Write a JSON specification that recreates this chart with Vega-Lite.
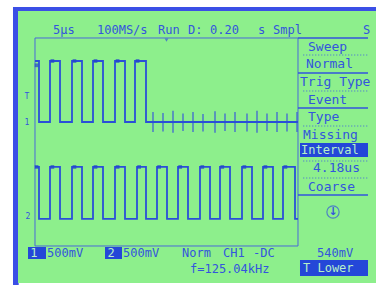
{
  "$schema": "https://vega.github.io/schema/vega-lite/v6.json",
  "width": 376,
  "height": 285,
  "autosize": {"type": "fit", "contains": "padding"},
  "padding": 0,
  "background": "white",
  "config": {"view": {"stroke": null}},
  "datasets": {
    "border": [
      {"t": -4.183, "t2": -3.1, "v": 5.192, "v2": -5.5},
      {"t": -4.183, "t2": 64.829, "v": 5.192, "v2": 4.95}
    ],
    "screen": [{"t": -3.232, "t2": 64.829, "v": 5.038, "v2": -5.423}],
    "grat": [{"t": 0, "t2": 50, "v": 4, "v2": -4}],
    "menuSolid": [
      {"t": 50, "t2": 63.308, "v": 4.0},
      {"t": 50, "t2": 63.308, "v": 2.654},
      {"t": 50, "t2": 63.308, "v": 1.308},
      {"t": 50, "t2": 63.308, "v": -2.038}
    ],
    "menuDotted": [
      {"t": 51.0, "t2": 63.308, "v": 3.346},
      {"t": 51.0, "t2": 63.308, "v": 1.962},
      {"t": 51.0, "t2": 63.308, "v": 0.615},
      {"t": 51.0, "t2": 63.308, "v": -0.731},
      {"t": 51.0, "t2": 63.308, "v": -1.385}
    ],
    "divs": [
      {"t": 5}, {"t": 10}, {"t": 15}, {"t": 20}, {"t": 25},
      {"t": 30}, {"t": 35}, {"t": 40}, {"t": 45}
    ],
    "vdivs": [
      {"v": 3}, {"v": 2}, {"v": 1}, {"v": -1}, {"v": -2}, {"v": -3}
    ],
    "spikes": [
      {"t": 22.433, "v": 1.15, "v2": 0.38},
      {"t": 24.334, "v": 1.12, "v2": 0.4},
      {"t": 26.236, "v": 1.2, "v2": 0.36},
      {"t": 28.137, "v": 1.1, "v2": 0.42},
      {"t": 30.038, "v": 1.15, "v2": 0.38},
      {"t": 31.939, "v": 1.08, "v2": 0.4},
      {"t": 34.221, "v": 1.18, "v2": 0.36},
      {"t": 36.122, "v": 1.1, "v2": 0.42},
      {"t": 38.023, "v": 1.15, "v2": 0.38},
      {"t": 40.304, "v": 1.1, "v2": 0.4},
      {"t": 42.205, "v": 1.2, "v2": 0.36},
      {"t": 44.106, "v": 1.1, "v2": 0.42},
      {"t": 46.008, "v": 1.15, "v2": 0.38},
      {"t": 47.909, "v": 1.1, "v2": 0.4},
      {"t": 49.81, "v": 1.15, "v2": 0.38}
    ],
    "ch1": [
      {"t": 0, "v": 3.115},
      {"t": 0.76, "v": 0.77},
      {"t": 2.852, "v": 3.115},
      {"t": 4.753, "v": 0.77},
      {"t": 7.034, "v": 3.115},
      {"t": 8.935, "v": 0.77},
      {"t": 11.027, "v": 3.115},
      {"t": 12.928, "v": 0.77},
      {"t": 15.209, "v": 3.115},
      {"t": 17.11, "v": 0.77},
      {"t": 19.011, "v": 3.115},
      {"t": 21.103, "v": 0.77},
      {"t": 50, "v": 0.77}
    ],
    "ch2": [
      {"t": 0, "v": -0.96},
      {"t": 0.76, "v": -2.96},
      {"t": 2.852, "v": -0.96},
      {"t": 4.753, "v": -2.96},
      {"t": 7.034, "v": -0.96},
      {"t": 8.935, "v": -2.96},
      {"t": 11.027, "v": -0.96},
      {"t": 12.928, "v": -2.96},
      {"t": 15.209, "v": -0.96},
      {"t": 17.11, "v": -2.96},
      {"t": 19.392, "v": -0.96},
      {"t": 21.103, "v": -2.96},
      {"t": 23.194, "v": -0.96},
      {"t": 25.095, "v": -2.96},
      {"t": 27.186, "v": -0.96},
      {"t": 29.087, "v": -2.96},
      {"t": 31.369, "v": -0.96},
      {"t": 33.27, "v": -2.96},
      {"t": 35.171, "v": -0.96},
      {"t": 37.072, "v": -2.96},
      {"t": 39.354, "v": -0.96},
      {"t": 41.255, "v": -2.96},
      {"t": 43.346, "v": -0.96},
      {"t": 45.247, "v": -2.96},
      {"t": 47.148, "v": -0.96},
      {"t": 49.43, "v": -2.96},
      {"t": 50, "v": -2.96}
    ],
    "blobs": [
      {"t": 0.3, "v": 2.95}, {"t": 3.3, "v": 3.115}, {"t": 7.5, "v": 3.115}, {"t": 11.5, "v": 3.115}, {"t": 15.7, "v": 3.115}, {"t": 19.5, "v": 3.115},
      {"t": 0.3, "v": -0.96}, {"t": 3.3, "v": -0.96}, {"t": 7.5, "v": -0.96}, {"t": 11.5, "v": -0.96}, {"t": 15.7, "v": -0.96}, {"t": 19.8, "v": -0.96},
      {"t": 23.6, "v": -0.96}, {"t": 27.6, "v": -0.96}, {"t": 31.8, "v": -0.96}, {"t": 35.6, "v": -0.96}, {"t": 39.8, "v": -0.96}, {"t": 43.8, "v": -0.96}, {"t": 47.6, "v": -0.96}
    ],
    "invRects": [
      {"t": 50.38, "t2": 63.308, "v": -0.038, "v2": -0.577},
      {"t": 50.38, "t2": 63.308, "v": -4.538, "v2": -5.154},
      {"t": -1.331, "t2": 2.091, "v": -4.038, "v2": -4.5},
      {"t": 13.308, "t2": 16.54, "v": -4.038, "v2": -4.5}
    ],
    "textTop": [
      {"t": 3.422, "v": 4.308, "label": "5\u03bcs"},
      {"t": 11.787, "v": 4.308, "label": "100MS/s"},
      {"t": 23.384, "v": 4.308, "label": "Run"},
      {"t": 29.087, "v": 4.308, "label": "D:"},
      {"t": 33.27, "v": 4.308, "label": "0.20"},
      {"t": 42.395, "v": 4.308, "label": "s"},
      {"t": 45.247, "v": 4.308, "label": "Smpl"},
      {"t": 62.357, "v": 4.308, "label": "S"}
    ],
    "textMenu": [
      {"t": 51.901, "v": 3.654, "label": "Sweep"},
      {"t": 51.521, "v": 3.0, "label": "Normal"},
      {"t": 50.38, "v": 2.308, "label": "Trig Type"},
      {"t": 51.901, "v": 1.615, "label": "Event"},
      {"t": 51.901, "v": 0.962, "label": "Type"},
      {"t": 50.951, "v": 0.269, "label": "Missing"},
      {"t": 52.852, "v": -1.0, "label": "4.18us"},
      {"t": 51.901, "v": -1.731, "label": "Coarse"}
    ],
    "textBottom": [
      {"t": 2.281, "v": -4.269, "label": "500mV"},
      {"t": 16.73, "v": -4.269, "label": "500mV"},
      {"t": 27.947, "v": -4.269, "label": "Norm"},
      {"t": 35.741, "v": -4.269, "label": "CH1"},
      {"t": 41.445, "v": -4.269, "label": "-DC"},
      {"t": 29.468, "v": -4.885, "label": "f=125.04kHz"},
      {"t": 53.612, "v": -4.269, "label": "540mV"}
    ],
    "textInv": [
      {"t": 50.57, "v": -0.308, "label": "Interval"},
      {"t": 50.951, "v": -4.846, "label": "T Lower"},
      {"t": -0.9, "v": -4.269, "label": "1"},
      {"t": 13.8, "v": -4.269, "label": "2"}
    ],
    "markers": [
      {"t": -1.521, "v": 1.731, "label": "T"},
      {"t": -1.521, "v": 0.731, "label": "1"},
      {"t": -1.331, "v": -2.885, "label": "2"}
    ],
    "icon": [{"t": 56.654, "v": -2.692}]
  },
  "encoding": {
    "x": {"field": "t", "type": "quantitative", "scale": {"domain": [-6.654, 64.829], "nice": false, "zero": false}, "axis": null},
    "y": {"field": "v", "type": "quantitative", "scale": {"domain": [-5.5, 5.4615], "nice": false, "zero": false}, "axis": null}
  },
  "layer": [
    {"data": {"name": "border"}, "mark": {"type": "rect", "color": "#3b4fe6"}, "encoding": {"x2": {"field": "t2"}, "y2": {"field": "v2"}}},
    {"data": {"name": "screen"}, "mark": {"type": "rect", "color": "#8def8c"}, "encoding": {"x2": {"field": "t2"}, "y2": {"field": "v2"}}},
    {"data": {"name": "grat"}, "mark": {"type": "rect", "fill": null, "stroke": "#4a6ad8", "strokeWidth": 1}, "encoding": {"x2": {"field": "t2"}, "y2": {"field": "v2"}}},
    {"data": {"name": "menuSolid"}, "mark": {"type": "rule", "color": "#3355dd", "strokeWidth": 1.5}, "encoding": {"x2": {"field": "t2"}}},
    {"data": {"name": "menuDotted"}, "mark": {"type": "rule", "color": "#4466dd", "strokeWidth": 1, "strokeDash": [1, 2]}, "encoding": {"x2": {"field": "t2"}}},
    {"data": {"name": "divs"}, "mark": {"type": "rule", "color": "#4a6ad8", "strokeWidth": 1}, "encoding": {"y": {"datum": 4}, "y2": {"datum": 3.85}}},
    {"data": {"name": "divs"}, "mark": {"type": "point", "shape": "square", "filled": true, "size": 3, "color": "#4a6ad8"}, "encoding": {"y": {"datum": 0}}},
    {"data": {"name": "vdivs"}, "mark": {"type": "rule", "color": "#4a6ad8", "strokeWidth": 1}, "encoding": {"x": {"datum": 24.7}, "x2": {"datum": 25.3}}},
    {"data": {"name": "vdivs"}, "mark": {"type": "rule", "color": "#4a6ad8", "strokeWidth": 1}, "encoding": {"x": {"datum": 0}, "x2": {"datum": 0.5}}},
    {"data": {"name": "icon"}, "mark": {"type": "point", "shape": "triangle-down", "filled": true, "size": 14, "color": "#3355dd"}, "encoding": {"x": {"datum": 25}, "y": {"datum": 3.92}}},
    {"data": {"name": "spikes"}, "mark": {"type": "rule", "color": "#3a5ad8", "strokeWidth": 1.2}, "encoding": {"y2": {"field": "v2"}}},
    {"data": {"name": "ch1"}, "mark": {"type": "line", "interpolate": "step-after", "color": "#2a4fd8", "strokeWidth": 1.8}, "encoding": {}},
    {"data": {"name": "ch2"}, "mark": {"type": "line", "interpolate": "step-after", "color": "#2a4fd8", "strokeWidth": 1.8}, "encoding": {}},
    {"data": {"name": "blobs"}, "mark": {"type": "point", "shape": "square", "filled": true, "size": 14, "color": "#2244cc"}},
    {"data": {"name": "invRects"}, "mark": {"type": "rect", "color": "#2447d8"}, "encoding": {"x2": {"field": "t2"}, "y2": {"field": "v2"}}},
    {"data": {"name": "textTop"}, "mark": {"type": "text", "align": "left", "baseline": "middle", "font": "DejaVu Sans Mono", "fontSize": 12, "color": "#3355dd"}, "encoding": {"text": {"field": "label"}}},
    {"data": {"name": "textMenu"}, "mark": {"type": "text", "align": "left", "baseline": "middle", "font": "DejaVu Sans Mono", "fontSize": 13, "color": "#3355dd"}, "encoding": {"text": {"field": "label"}}},
    {"data": {"name": "textBottom"}, "mark": {"type": "text", "align": "left", "baseline": "middle", "font": "DejaVu Sans Mono", "fontSize": 12, "color": "#3355dd"}, "encoding": {"text": {"field": "label"}}},
    {"data": {"name": "textInv"}, "mark": {"type": "text", "align": "left", "baseline": "middle", "font": "DejaVu Sans Mono", "fontSize": 12, "color": "#b8f0c8"}, "encoding": {"text": {"field": "label"}}},
    {"data": {"name": "markers"}, "mark": {"type": "text", "align": "center", "baseline": "middle", "font": "DejaVu Sans Mono", "fontSize": 8, "color": "#3355dd"}, "encoding": {"text": {"field": "label"}}},
    {"data": {"name": "icon"}, "mark": {"type": "point", "shape": "circle", "filled": false, "size": 150, "strokeWidth": 1.2, "color": "#3355dd"}},
    {"data": {"name": "icon"}, "mark": {"type": "text", "align": "center", "baseline": "middle", "font": "DejaVu Sans", "fontSize": 11, "fontWeight": "bold", "color": "#3355dd", "text": "\u2193"}}
  ]
}
